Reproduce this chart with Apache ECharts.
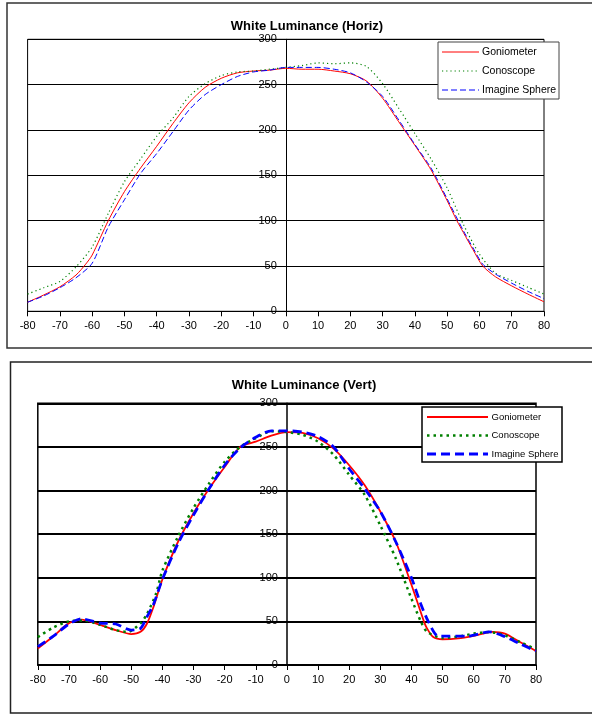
<!DOCTYPE html>
<html><head><meta charset="utf-8">
<script src="https://cdn.jsdelivr.net/npm/echarts@6/dist/echarts.min.js"></script>
<style>html,body{margin:0;padding:0;background:#fff}#c{width:592px;height:715px}</style>
</head><body><div id="c"></div>
<script>
// ---- Data ----
var xTicks = [-80,-70,-60,-50,-40,-30,-20,-10,0,10,20,30,40,50,60,70,80];
var yTicks = [0,50,100,150,200,250,300];
var seriesNames = ['Goniometer','Conoscope','Imagine Sphere'];

// Horizontal: [angle, luminance]
var horizGonio = [[-80,10],[-75,18],[-70,27],[-65,40],[-62,52],[-60,62],[-55,100],[-50,132],[-45,158],[-40,182],[-35,207],[-30,230],[-25,247],[-20,257],[-15,263],[-10,265],[-5,266],[0,268],[5,267],[10,267],[15,265],[20,262],[25,254],[30,235],[35,209],[40,183],[45,156],[50,122],[53,100],[55,87],[58,68],[61,50],[65,38],[70,28],[75,19],[80,10.5]];
var horizCono = [[-80,19],[-75,26],[-70,33],[-65,49],[-60,71],[-55,108],[-50,143],[-45,168],[-40,193],[-35,213],[-30,237],[-25,251],[-20,260],[-15,264],[-10,265],[-5,267],[0,269],[5,271],[10,274],[15,273],[20,274],[25,270],[30,251],[35,224],[40,196],[45,168],[50,136],[55,96],[60,63],[65,42],[70,34],[75,26.5],[80,19]];
var horizSphere = [[-80,10],[-75,17],[-70,26],[-65,37],[-60,53],[-55,93],[-50,123],[-45,152],[-40,174],[-35,198],[-30,222],[-25,239],[-20,250],[-15,259],[-10,264],[-5,266],[0,269],[5,269],[10,269],[15,267],[20,263],[25,253],[30,237],[35,211],[40,184],[45,158],[50,124],[55,89],[58,70],[61,52],[65,41],[70,31],[75,22],[80,14]];

// Vertical: [angle, luminance]
var vertGonio = [[-80,19],[-75,33],[-70,48],[-66,52],[-60,46],[-55,40],[-50,35.5],[-47,38],[-45,47],[-43,65],[-40,98],[-35,141],[-30,174],[-25,202],[-20,227],[-15,250],[-10,256],[-5,263],[0,267],[5,266],[10,260],[15,248],[20,229],[25,206],[30,176],[35,141],[40,92],[44,50],[45,42],[47,32],[50,29.5],[55,30.5],[60,33.5],[66,38],[70,36],[75,26],[80,16]];
var vertCono = [[-80,32],[-75,43],[-70,50],[-65,51],[-60,46],[-55,40],[-51,38],[-47,48],[-45,58],[-42,82],[-40,108],[-35,147],[-30,180],[-25,208],[-20,233],[-15,250],[-10,260],[-5,268],[0,267],[5,264],[10,256],[15,241],[20,218],[25,195],[30,160],[35,122],[40,76],[43,50],[45,38],[50,31],[55,32.5],[60,36],[65,37.7],[70,34],[75,26],[80,18]];
var vertSphere = [[-80,21],[-75,33],[-70,47],[-66,53],[-60,48],[-55,47],[-50,40],[-47,42],[-45,55],[-43,68],[-40,98],[-35,139],[-30,172],[-25,202],[-20,229],[-15,249],[-10,261],[-5,268.5],[0,268.5],[5,267],[10,262],[15,250],[20,225],[25,202],[30,176],[35,141],[40,100],[43,70],[45.4,50],[48.7,33],[58,33],[65,38],[70,32.5],[75,24],[80,16]];

var titles = ['White Luminance (Horiz)', 'White Luminance (Vert)'];

// ---- Chart ----
var FONT = '"Liberation Sans", Arial, sans-serif';
var chart = echarts.init(document.getElementById('c'), null, {renderer:'canvas'});

var grids = [
  {left:27.6, top:39.3, width:516.4, height:272},
  {left:37.8, top:403.3, width:498.2, height:261.7}
];

function xAxisDef(gi){
  return {type:'value', gridIndex:gi, min:-80, max:80, interval:10,
    axisLine:{show:true, onZero:false, lineStyle:{color:'#000', width: gi?1.5:1}},
    axisTick:{show:true, inside:false, length:5, lineStyle:{color:'#000'}},
    axisLabel:{color:'#000', fontFamily:FONT, fontSize:11, margin:9},
    splitLine:{show:false}};
}
function yAxisDef(gi){
  // y axis drawn at x = 0 (centre of the x range)
  var off = -(grids[gi].width / 2);
  return {type:'value', gridIndex:gi, min:0, max:300, interval:50, position:'left', offset:off,
    axisLine:{show:true, onZero:false, lineStyle:{color:'#000', width: gi?1.5:1}},
    axisTick:{show:true, length:4, lineStyle:{color:'#000'}},
    axisLabel:{color:'#000', fontFamily:FONT, fontSize:11, margin:9},
    splitLine:{show:true, lineStyle:{color:'#000', width: gi?2:1}}};
}
var styles = [
  [{c:'#ff0000', w:1, d:null}, {c:'#008000', w:1.2, d:[1.2,3]}, {c:'#0000ff', w:1, d:[6,3]}],
  [{c:'#ff0000', w:1.8, d:null}, {c:'#008000', w:2.5, d:[2.5,4]}, {c:'#0000ff', w:2.8, d:[9,5]}]
];
var dataSets = [[horizGonio, horizCono, horizSphere],[vertGonio, vertCono, vertSphere]];
var series = [];
for (var g=0; g<2; g++) for (var i=0; i<3; i++){
  var s = styles[g][i];
  series.push({name:seriesNames[i] + (g ? ' (V)' : ''), type:'line', xAxisIndex:g, yAxisIndex:g, data:dataSets[g][i],
    showSymbol:false, symbol:'none', smooth:0.25, z:3,
    lineStyle:{color:s.c, width:s.w, type:s.d || 'solid'}, itemStyle:{color:s.c}});
}

// legends drawn as graphic boxes
var legendBoxes = [
  {x:438, y:42, w:121, h:57, stroke:'#444', lw:1, lx0:442, lx1:479, tx:482, ys:[52,71,90], fs:10.5},
  {x:422, y:407, w:140, h:55, stroke:'#000', lw:1.5, lx0:427, lx1:488, tx:491.5, ys:[417,435.5,454], fs:9.5}
];
var graphics = [
  {type:'rect', shape:{x:7, y:3, width:600, height:345}, style:{fill:'none', stroke:'#333', lineWidth:1.5}, z:-10, silent:true},
  {type:'rect', shape:{x:10.5, y:362, width:600, height:351}, style:{fill:'none', stroke:'#222', lineWidth:1.5}, z:-10, silent:true}
];
legendBoxes.forEach(function(b, g){
  graphics.push({type:'rect', shape:{x:b.x, y:b.y, width:b.w, height:b.h}, style:{fill:'#fff', stroke:b.stroke, lineWidth:b.lw}, z:50, silent:true});
  for (var i=0;i<3;i++){
    var s = styles[g][i];
    graphics.push({type:'line', shape:{x1:b.lx0, y1:b.ys[i], x2:b.lx1, y2:b.ys[i]},
      style:{stroke:s.c, lineWidth:s.w, lineDash:s.d}, z:51, silent:true});
    graphics.push({type:'text', x:b.tx, y:b.ys[i], style:{text:seriesNames[i], fill:'#000', font:b.fs+'px '+FONT, verticalAlign:'middle', textVerticalAlign:'middle'}, z:51, silent:true});
  }
});

chart.setOption({
  animation:false,
  backgroundColor:'#fff',
  title:[
    {text:titles[0], left:302, top:15, textAlign:'center', textStyle:{fontFamily:FONT, fontSize:13, fontWeight:'bold', color:'#000'}},
    {text:titles[1], left:299, top:374, textAlign:'center', textStyle:{fontFamily:FONT, fontSize:13, fontWeight:'bold', color:'#000'}}
  ],
  grid:[
    Object.assign({show:true, borderColor:'#000', borderWidth:1, backgroundColor:'transparent'}, grids[0]),
    Object.assign({show:true, borderColor:'#000', borderWidth:1.5, backgroundColor:'transparent'}, grids[1])
  ],
  xAxis:[xAxisDef(0), xAxisDef(1)],
  yAxis:[yAxisDef(0), yAxisDef(1)],
  graphic:graphics,
  series:series
});
</script>
</body></html>
